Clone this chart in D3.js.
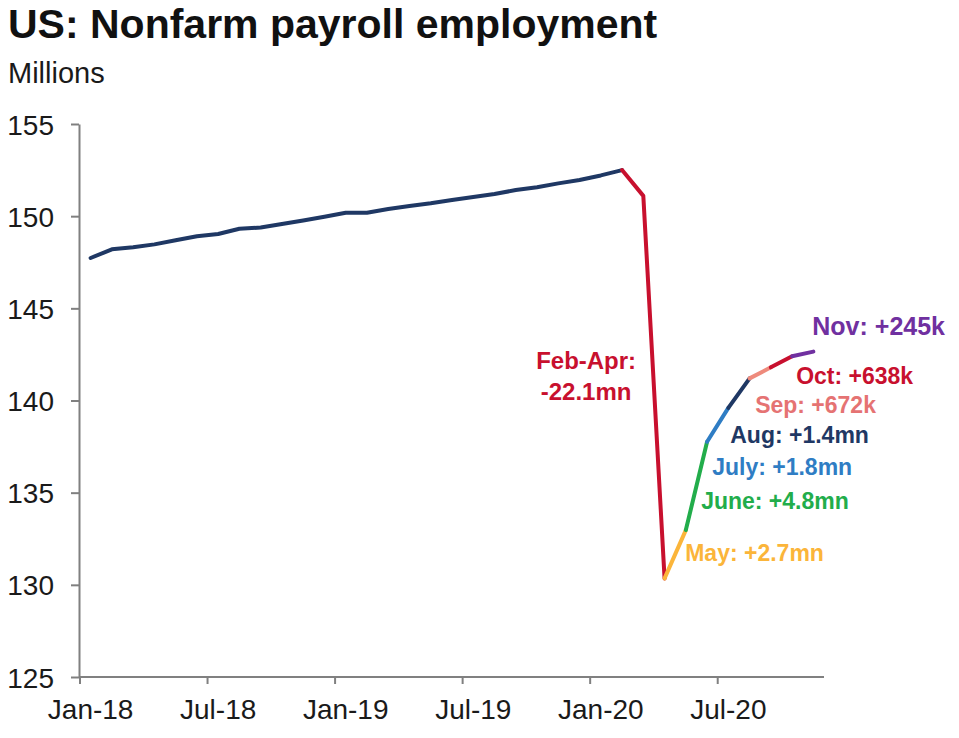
<!DOCTYPE html>
<html>
<head>
<meta charset="utf-8">
<script src="https://cdn.jsdelivr.net/npm/d3@7"></script>
<style>
  body { margin: 0; background: #fff; }
  svg { font-family: Arial, "Liberation Sans", sans-serif; }
  .axis path, .axis line { stroke: #808080; stroke-width: 2; }
  .axis text { fill: #1a1a1a; font-size: 28px; }
</style>
</head>
<body>
<div id="chart"></div>
<script>
// monthly payrolls, Jan-18 .. Nov-20 (millions)
const months = ['Jan-18','Feb-18','Mar-18','Apr-18','May-18','Jun-18','Jul-18','Aug-18','Sep-18','Oct-18','Nov-18','Dec-18',
    'Jan-19','Feb-19','Mar-19','Apr-19','May-19','Jun-19','Jul-19','Aug-19','Sep-19','Oct-19','Nov-19','Dec-19',
    'Jan-20','Feb-20','Mar-20','Apr-20','May-20','Jun-20','Jul-20','Aug-20','Sep-20','Oct-20','Nov-20'];
const payrolls = [147.73, 148.20, 148.31, 148.47, 148.69, 148.91, 149.03, 149.32, 149.38, 149.57, 149.77, 149.97,
    150.19, 150.19, 150.39, 150.55, 150.70, 150.88, 151.04, 151.20, 151.42, 151.57, 151.78, 151.96,
    152.21, 152.50, 151.10, 130.35, 132.97, 137.76, 139.60, 141.20, 141.80, 142.40, 142.65];

const yTicks = [125, 130, 135, 140, 145, 150, 155];
const xTickMonths = ['Jan-18', 'Jul-18', 'Jan-19', 'Jul-19', 'Jan-20', 'Jul-20'];

// coloured pieces of the line: from month -> to month
const segments = [
    { from: 'Jan-18', to: 'Feb-20', color: '#1f3864' },
    { from: 'Feb-20', to: 'Apr-20', color: '#c8102e' },
    { from: 'Apr-20', to: 'May-20', color: '#fbb53a' },
    { from: 'May-20', to: 'Jun-20', color: '#22ad4b' },
    { from: 'Jun-20', to: 'Jul-20', color: '#2f7dc4' },
    { from: 'Jul-20', to: 'Aug-20', color: '#1f3864' },
    { from: 'Aug-20', to: 'Sep-20', color: '#ee8a7c' },
    { from: 'Sep-20', to: 'Oct-20', color: '#c8102e' },
    { from: 'Oct-20', to: 'Nov-20', color: '#7030a0' }
];

// annotations, anchored in data units (month index, millions)
const notes = [
    { lines: ['Feb-Apr:', '-22.1mn'], color: '#c8102e', at: 23.31, value: 141.71, anchor: 'middle', size: 24 },
    { lines: ['Nov: +245k'], color: '#7030a0', at: 33.95, value: 143.55, anchor: 'start', size: 25 },
    { lines: ['Oct: +638k'], color: '#c8102e', at: 33.19, value: 140.89, anchor: 'start', size: 23 },
    { lines: ['Sep: +672k'], color: '#e57373', at: 31.26, value: 139.32, anchor: 'start', size: 23 },
    { lines: ['Aug: +1.4mn'], color: '#1f3864', at: 30.09, value: 137.69, anchor: 'start', size: 23 },
    { lines: ['July: +1.8mn'], color: '#2f7dc4', at: 29.24, value: 135.95, anchor: 'start', size: 23 },
    { lines: ['June: +4.8mn'], color: '#22ad4b', at: 28.72, value: 134.11, anchor: 'start', size: 23 },
    { lines: ['May: +2.7mn'], color: '#fbb53a', at: 27.97, value: 131.29, anchor: 'start', size: 23 }
];

const width = 959;
const height = 738;

const svg = d3.select('#chart')
    .append('svg')
    .attr('width', width)
    .attr('height', height);

// title block
svg.append('text')
    .attr('x', 8)
    .attr('y', 38)
    .style('font-size', '41px')
    .style('font-weight', 'bold')
    .attr('fill', '#111')
    .text('US: Nonfarm payroll employment');

svg.append('text')
    .attr('x', 8)
    .attr('y', 83)
    .style('font-size', '29px')
    .attr('fill', '#1a1a1a')
    .text('Millions');

// scales
const x = d3.scaleBand()
    .domain(months)
    .range([80, 824])
    .padding(0);
const bw = x.bandwidth();

const y = d3.scaleLinear()
    .domain([125, 155])
    .range([677, 124]);

const xAt = i => x.range()[0] + (i + 0.5) * bw; // fractional month index -> px

// axes
const yAxis = svg.append('g')
    .attr('class', 'axis')
    .attr('transform', 'translate(79,0)')
    .call(d3.axisLeft(y).tickValues(yTicks).tickSize(8).tickSizeOuter(0).tickPadding(17));
yAxis.selectAll('text').attr('dy', '0.36em');

const xAxis = svg.append('g')
    .attr('class', 'axis')
    .attr('transform', 'translate(0,677)')
    .call(d3.axisBottom(x).tickValues(xTickMonths).tickSize(7).tickSizeOuter(0).tickPadding(15));
// ticks sit on the band edge, labels stay centred on the month
xAxis.selectAll('.tick line').attr('x1', -bw / 2).attr('x2', -bw / 2);
xAxis.select('.domain').attr('d', 'M' + (x.range()[0] - 1) + ',0H' + x.range()[1]);

// line pieces
const line = d3.line()
    .x(d => x(d.month) + bw / 2)
    .y(d => y(d.value));

const points = months.map((m, i) => ({ month: m, value: payrolls[i] }));

svg.append('g')
    .selectAll('path')
    .data(segments)
    .join('path')
    .attr('d', s => line(points.slice(months.indexOf(s.from), months.indexOf(s.to) + 1)))
    .attr('fill', 'none')
    .attr('stroke', s => s.color)
    .attr('stroke-width', 4)
    .attr('stroke-linejoin', 'round')
    .attr('stroke-linecap', 'round');

// annotations
const noteText = svg.append('g')
    .selectAll('text')
    .data(notes)
    .join('text')
    .attr('x', d => xAt(d.at))
    .attr('y', d => y(d.value))
    .attr('text-anchor', d => d.anchor)
    .attr('fill', d => d.color)
    .style('font-size', d => d.size + 'px')
    .style('font-weight', 'bold');

noteText.selectAll('tspan')
    .data(d => d.lines.map((t, k) => ({ t: t, k: k, x: xAt(d.at) })))
    .join('tspan')
    .attr('x', d => d.x)
    .attr('dy', d => d.k === 0 ? 0 : '1.3em')
    .text(d => d.t);
</script>
</body>
</html>
